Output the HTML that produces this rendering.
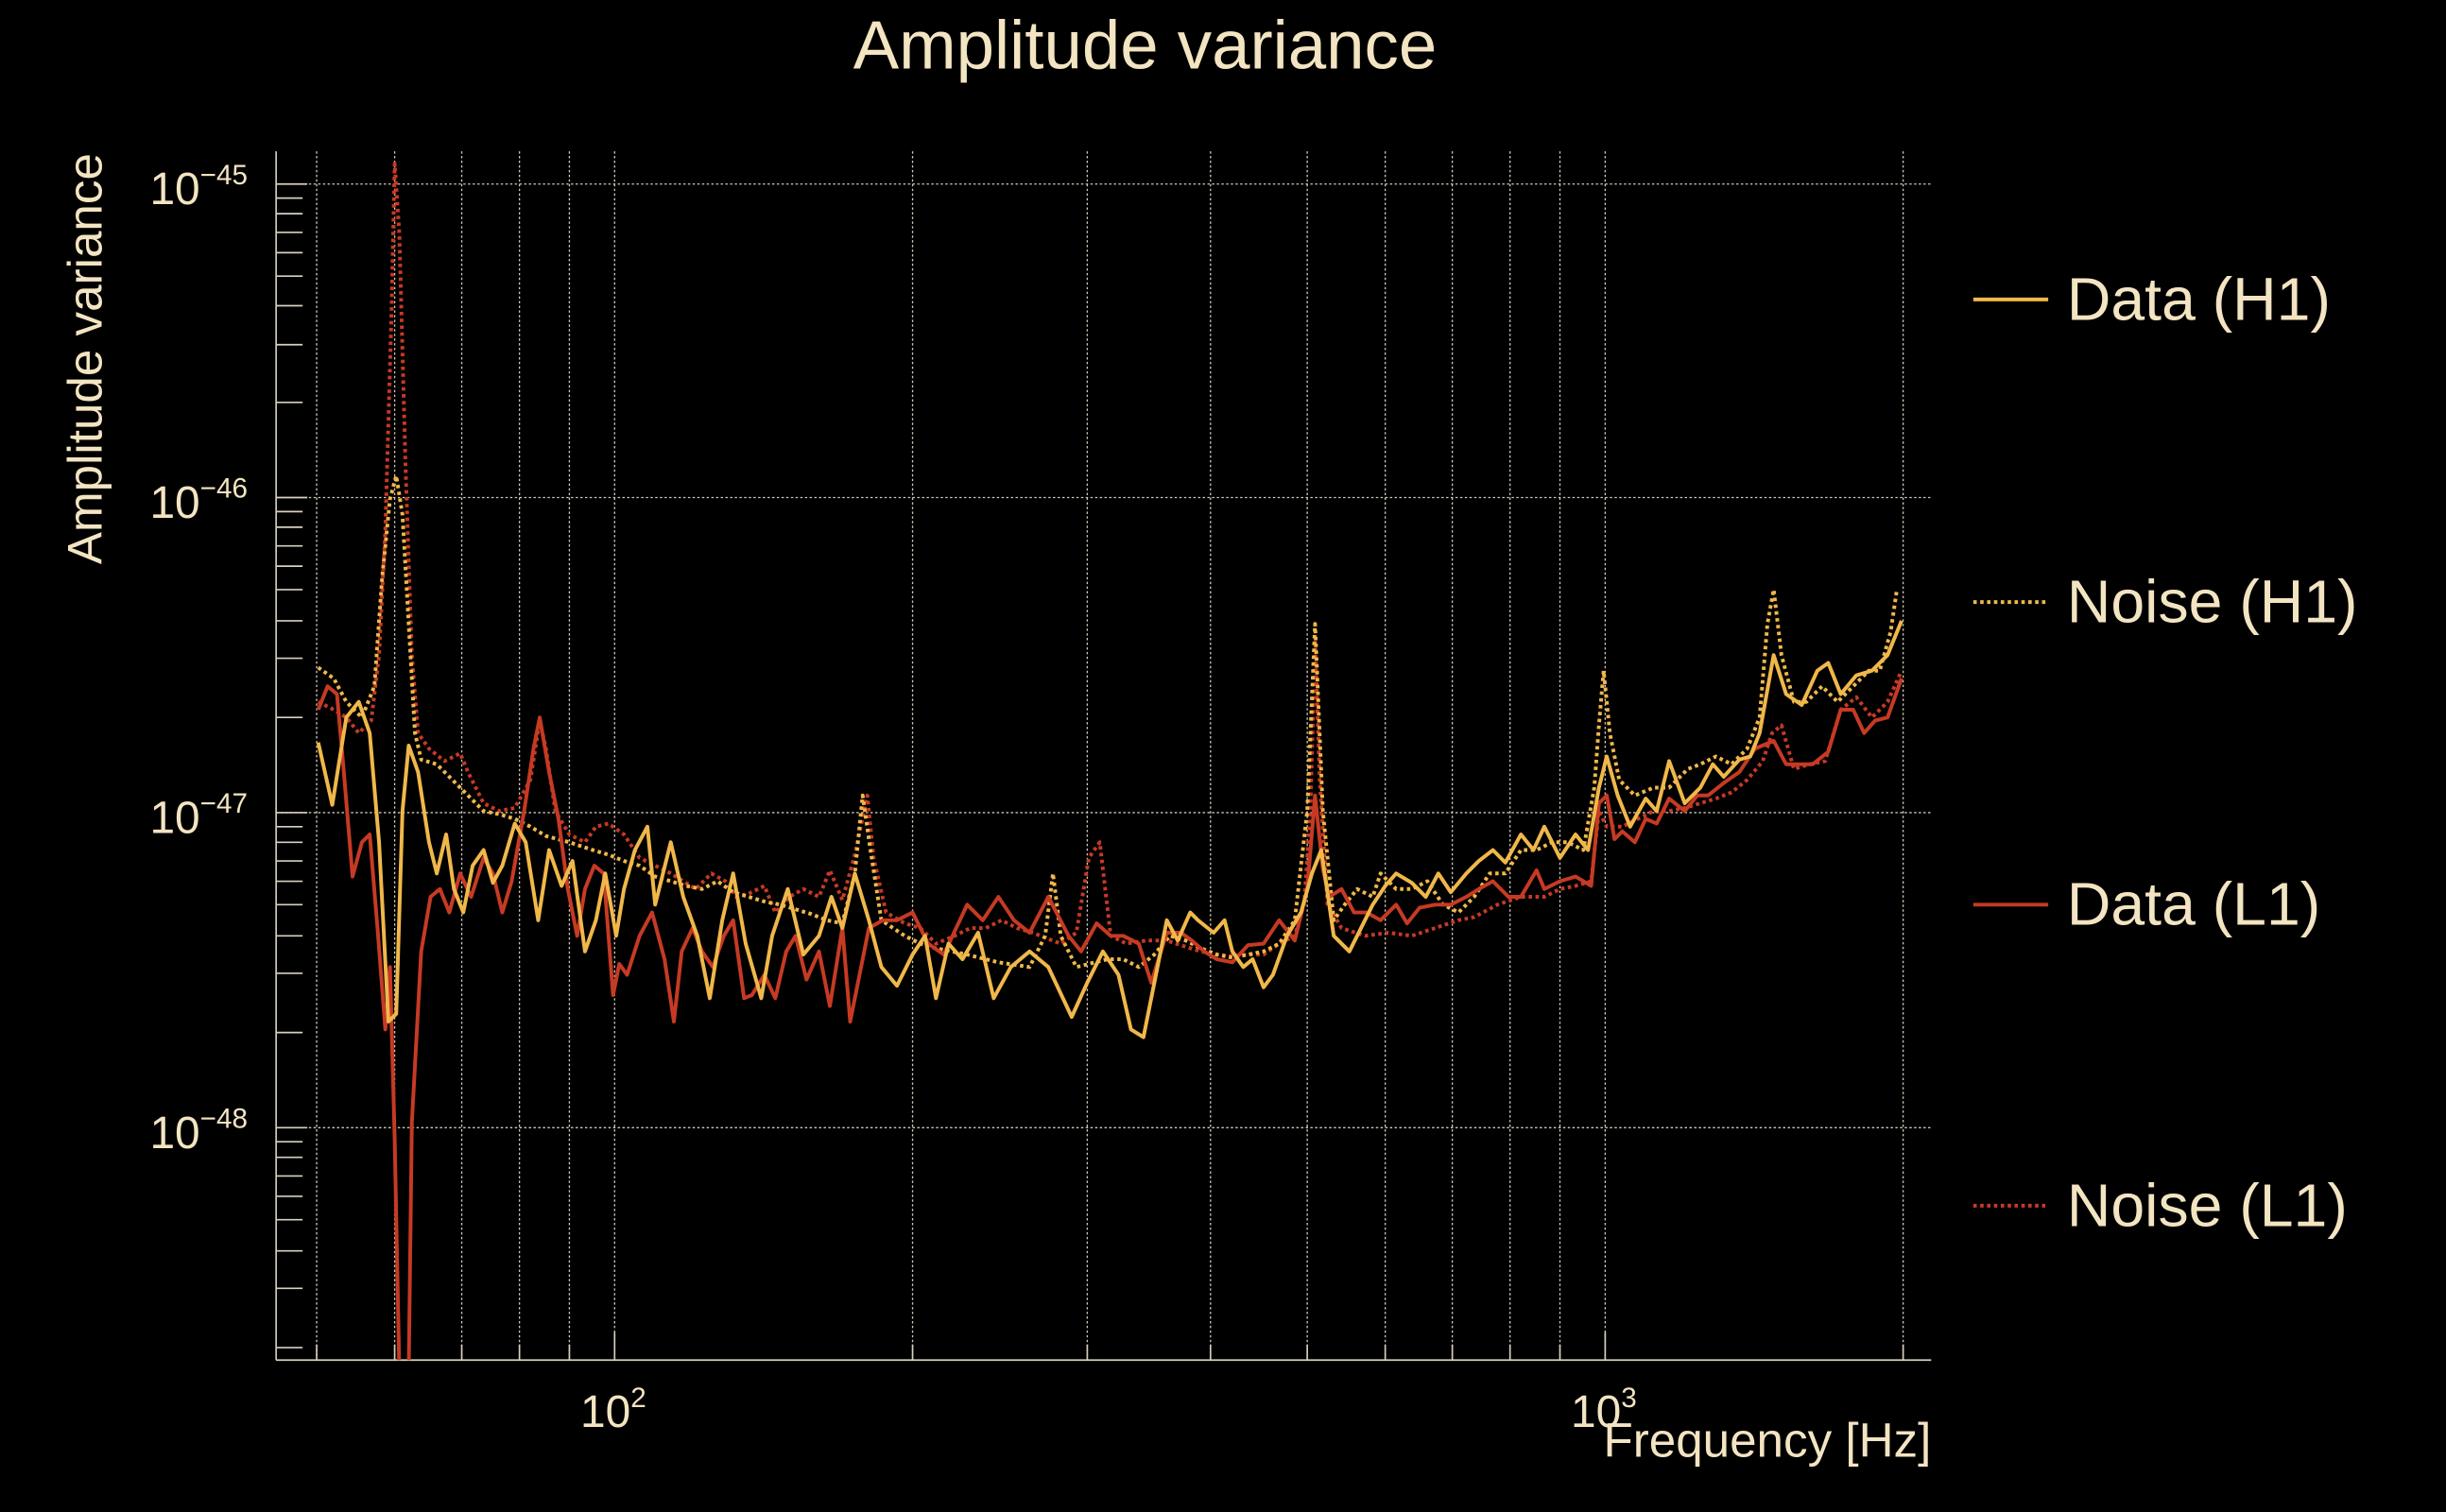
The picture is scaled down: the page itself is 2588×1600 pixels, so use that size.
<!DOCTYPE html>
<html><head><meta charset="utf-8"><style>
html,body{margin:0;padding:0;background:#000;}
svg{display:block;}
text{font-family:"Liberation Sans",sans-serif;fill:#f3e4c2;}
</style></head><body>
<svg width="2588" height="1600" viewBox="0 0 1568 969.4" xmlns="http://www.w3.org/2000/svg">
<rect x="0" y="0" width="1568" height="970" fill="#000"/>
<g stroke="#cfc8b8" stroke-width="0.8" stroke-dasharray="1.5,1.5" fill="none">
<line x1="177" y1="118" x2="1238" y2="118"/>
<line x1="177" y1="319" x2="1238" y2="319"/>
<line x1="177" y1="521" x2="1238" y2="521"/>
<line x1="177" y1="723" x2="1238" y2="723"/>
<line x1="203" y1="97" x2="203" y2="872"/><line x1="253" y1="97" x2="253" y2="872"/><line x1="296" y1="97" x2="296" y2="872"/><line x1="333" y1="97" x2="333" y2="872"/><line x1="365" y1="97" x2="365" y2="872"/><line x1="394" y1="97" x2="394" y2="872"/><line x1="585" y1="97" x2="585" y2="872"/><line x1="697" y1="97" x2="697" y2="872"/><line x1="776" y1="97" x2="776" y2="872"/><line x1="838" y1="97" x2="838" y2="872"/><line x1="888" y1="97" x2="888" y2="872"/><line x1="931" y1="97" x2="931" y2="872"/><line x1="968" y1="97" x2="968" y2="872"/><line x1="1000" y1="97" x2="1000" y2="872"/><line x1="1029" y1="97" x2="1029" y2="872"/><line x1="1220" y1="97" x2="1220" y2="872"/>
</g>
<g stroke="#d8d0bf" stroke-width="1" fill="none">
<line x1="177" y1="97" x2="177" y2="872"/>
<line x1="177" y1="872" x2="1238" y2="872"/>
<path d="M177 118h20M177 319h20M177 521h20M177 723h20
M177 127h17M177 137h17M177 149h17M177 162h17M177 177h17M177 196h17M177 221h17M177 258h17
M177 328h17M177 338h17M177 350h17M177 363h17M177 378h17M177 398h17M177 422h17M177 460h17
M177 530h17M177 540h17M177 552h17M177 565h17M177 580h17M177 600h17M177 624h17M177 662h17
M177 732h17M177 742h17M177 754h17M177 767h17M177 782h17M177 802h17M177 826h17M177 864h17"/>
<path d="M203 872v-10M253 872v-10M296 872v-10M333 872v-10M365 872v-10M394 872v-18M585 872v-10M697 872v-10M776 872v-10M838 872v-10M888 872v-10M931 872v-10M968 872v-10M1000 872v-10M1029 872v-18M1220 872v-10"/>
</g>
<defs><clipPath id="c"><rect x="177" y="97" width="1061" height="775"/></clipPath></defs>
<g clip-path="url(#c)" fill="none" stroke-width="2.4" stroke-linejoin="round">
<polyline stroke="#c63a24" stroke-dasharray="2.2,2.2" points="204,450 214,455 222,460 230,470 238,462 243,420 247,340 251,200 253,105 256,150 260,300 264,420 268,470 275,480 285,488 295,483 300,495 310,515 320,520 330,518 340,500 346,462 350,480 356,520 365,535 375,540 382,530 390,528 400,535 410,550 420,555 430,560 438,565 446,570 456,560 465,565 472,575 480,573 490,568 497,585 506,575 515,570 525,575 532,558 540,577 548,548 556,510 560,550 568,585 580,592 590,595 600,605 612,600 622,595 632,595 642,590 652,595 662,598 672,602 680,605 690,598 698,550 705,540 712,600 722,605 735,603 748,603 760,607 770,610 780,612 790,613 800,612 810,612 820,605 830,600 836,580 840,520 843,410 846,500 851,580 860,595 875,600 890,598 905,600 920,595 935,590 945,588 960,580 975,575 990,575 1000,570 1010,568 1020,565 1025,520 1030,530 1040,530 1050,525 1060,520 1070,520 1080,518 1090,515 1100,512 1110,508 1120,500 1130,488 1136,470 1142,465 1150,493 1160,490 1170,488 1180,455 1190,447 1200,460 1210,450 1219,430"/>
<polyline stroke="#f0b84a" stroke-dasharray="2.2,2.2" points="204,428 214,435 222,450 232,460 240,440 245,370 250,320 254,305 258,330 262,400 266,470 270,487 280,490 290,500 300,510 310,520 320,522 330,525 340,530 350,536 365,540 380,545 390,548 400,552 410,555 420,562 430,565 440,568 450,570 460,565 470,572 480,575 490,578 500,580 510,583 520,586 530,590 540,592 548,560 553,510 558,545 565,590 580,600 590,605 600,608 610,610 620,612 640,617 660,620 670,600 675,560 680,600 690,620 710,615 720,615 730,620 740,612 750,600 760,603 770,608 780,612 790,614 800,612 810,610 820,605 830,590 838,520 843,400 848,520 855,590 862,580 870,570 880,575 885,560 895,570 905,570 915,565 925,580 935,585 945,575 955,560 965,560 975,545 985,545 995,540 1005,540 1015,545 1022,505 1025,465 1028,430 1032,470 1038,500 1048,510 1060,505 1070,505 1082,493 1090,490 1100,485 1110,490 1120,480 1128,460 1133,400 1137,378 1142,420 1150,450 1158,450 1168,440 1178,450 1188,440 1198,430 1205,430 1212,405 1216,378"/>
<polyline stroke="#c63a24" points="204,455 210,440 216,445 220,490 226,562 232,540 237,535 242,595 247,660 250,620 253,730 256,880 258,880 262,880 264,720 270,610 276,575 282,570 288,585 295,560 302,575 310,550 316,560 322,585 328,565 336,520 342,480 346,460 352,495 358,525 364,570 370,600 375,570 381,555 387,560 393,638 397,618 402,625 410,600 418,585 426,615 432,655 437,610 444,595 450,610 457,620 464,600 470,590 477,640 482,638 490,625 497,640 504,610 510,600 517,628 525,610 532,645 540,595 545,655 550,630 557,595 566,590 575,590 585,585 595,605 605,612 620,580 630,590 640,575 650,590 660,598 672,575 685,600 693,610 703,592 712,600 720,600 730,605 738,630 748,598 757,598 764,603 772,610 780,615 790,617 800,606 810,605 820,590 830,603 838,570 843,510 848,557 852,575 860,570 868,585 876,585 885,590 895,580 902,592 910,582 920,580 930,580 940,575 948,570 957,565 967,575 975,575 985,558 990,570 1000,565 1010,562 1020,568 1025,515 1030,510 1035,538 1040,533 1048,540 1055,525 1062,528 1070,512 1080,520 1088,510 1095,510 1105,502 1115,495 1125,480 1137,475 1145,490 1152,490 1162,490 1172,482 1180,455 1188,455 1195,470 1202,462 1210,460 1219,435"/>
<polyline stroke="#f0b84a" points="204,476 213,516 222,460 230,450 237,470 243,540 249,655 254,650 258,520 262,478 268,495 275,540 280,560 286,535 291,570 297,585 303,555 310,545 316,566 322,555 330,528 337,540 345,590 352,545 360,568 367,552 375,610 382,590 388,560 395,600 400,570 407,545 415,530 420,580 430,540 438,575 447,600 455,640 463,590 470,560 478,605 488,640 495,600 505,570 515,612 525,600 533,575 540,595 548,560 557,590 565,620 575,632 585,612 593,600 600,640 608,605 617,615 627,598 637,640 648,620 660,610 672,620 687,652 697,630 707,610 717,625 725,660 733,665 740,630 748,590 755,603 763,585 768,590 778,598 785,590 790,610 797,620 803,615 810,633 816,625 825,600 834,585 841,560 847,545 855,600 865,610 870,600 880,580 888,568 895,560 905,566 914,575 922,560 930,572 940,560 948,552 957,545 965,553 975,535 983,545 990,530 1000,550 1010,535 1018,545 1025,505 1030,485 1037,510 1045,530 1055,512 1062,520 1070,488 1080,515 1090,505 1098,490 1105,498 1115,487 1122,485 1128,470 1137,420 1145,445 1155,452 1165,430 1172,425 1180,445 1190,433 1200,430 1210,420 1219,398"/>
</g>
<text x="734" y="44" font-size="44" text-anchor="middle">Amplitude variance</text>
<text x="0" y="0" font-size="31" text-anchor="middle" transform="translate(65,230) rotate(-90)">Amplitude variance</text>
<text x="1238" y="934" font-size="31" text-anchor="end">Frequency [Hz]</text>
<g font-size="29">
<text x="96" y="131">10<tspan font-size="18" dy="-13">−45</tspan></text>
<text x="96" y="332">10<tspan font-size="18" dy="-13">−46</tspan></text>
<text x="96" y="534">10<tspan font-size="18" dy="-13">−47</tspan></text>
<text x="96" y="736">10<tspan font-size="18" dy="-13">−48</tspan></text>
<text x="372" y="915">10<tspan font-size="18" dy="-13">2</tspan></text>
<text x="1007" y="915">10<tspan font-size="18" dy="-13">3</tspan></text>
</g>
<g stroke-width="2.4">
<line x1="1265" y1="192" x2="1313" y2="192" stroke="#f0b84a"/>
<line x1="1265" y1="386" x2="1313" y2="386" stroke="#f0b84a" stroke-dasharray="2.2,2.2"/>
<line x1="1265" y1="580" x2="1313" y2="580" stroke="#c63a24"/>
<line x1="1265" y1="773" x2="1313" y2="773" stroke="#c63a24" stroke-dasharray="2.2,2.2"/>
</g>
<g font-size="39">
<text x="1325" y="205">Data (H1)</text>
<text x="1325" y="399">Noise (H1)</text>
<text x="1325" y="593">Data (L1)</text>
<text x="1325" y="786">Noise (L1)</text>
</g>
</svg>
</body></html>
